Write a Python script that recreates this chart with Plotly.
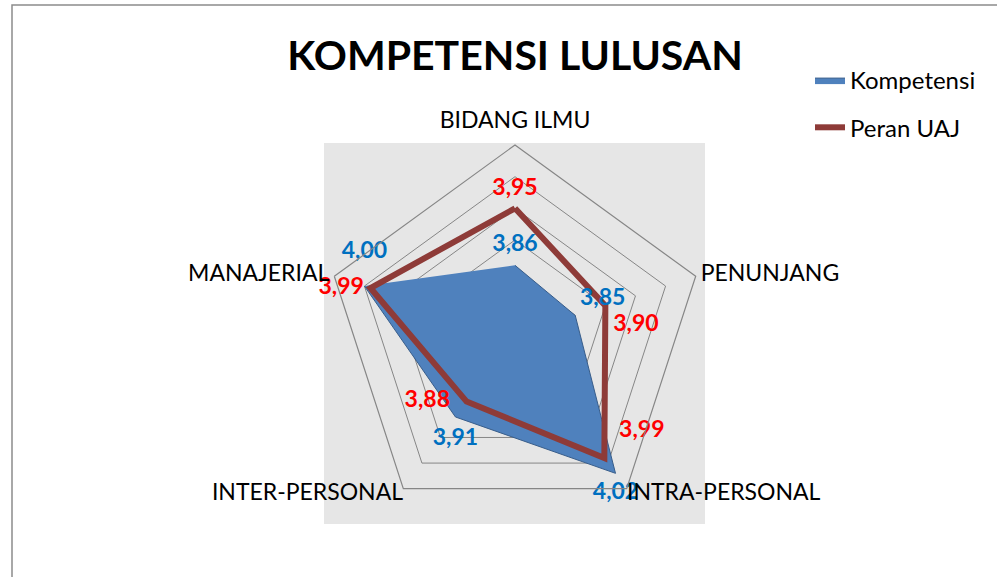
import plotly.graph_objects as go

categories = ["BIDANG ILMU", "PENUNJANG", "INTRA-PERSONAL", "INTER-PERSONAL", "MANAJERIAL"]
kompetensi = [3.86, 3.85, 4.02, 3.91, 4.00]
peran_uaj = [3.95, 3.90, 3.99, 3.88, 3.99]
radial_min, radial_max, radial_step = 3.75, 4.05, 0.05

# label placement relative to each point (position, spacer size)
komp_textpos = ["top center", "top right", "bottom center", "bottom center", "top center"]
komp_offset = [12, 6, 12, 16, 34]
peran_textpos = ["top center", "bottom right", "top right", "middle left", "middle left"]
peran_offset = [10, 11, 22, 25, 9]

FONT = "Lato, 'Open Sans', sans-serif"
W, H = 997, 577


def fmt(v):
    return "<b>" + f"{v:.2f}".replace(".", ",") + "</b>"


fig = go.Figure()

fig.add_trace(go.Scatterpolar(
    r=kompetensi, theta=categories, name="Kompetensi",
    mode="lines", fill="toself", fillcolor="#4F81BD",
    line=dict(color="#385D8A", width=1),
    legendgroup="a",
))
fig.add_trace(go.Scatterpolar(
    r=peran_uaj + peran_uaj[:1], theta=categories + categories[:1], name="Peran UAJ",
    mode="lines", line=dict(color="#8E3B38", width=6),
    legendgroup="b",
))
fig.add_trace(go.Scatterpolar(
    r=kompetensi, theta=categories, mode="markers+text", showlegend=False,
    marker=dict(size=komp_offset, opacity=0), text=[fmt(v) for v in kompetensi],
    textposition=komp_textpos,
    textfont=dict(family=FONT, size=23, color="#0070C0"),
    hoverinfo="skip",
))
fig.add_trace(go.Scatterpolar(
    r=peran_uaj, theta=categories, mode="markers+text", showlegend=False,
    marker=dict(size=peran_offset, opacity=0), text=[fmt(v) for v in peran_uaj],
    textposition=peran_textpos,
    textfont=dict(family=FONT, size=23, color="#FF0000"),
    hoverinfo="skip",
))
# invisible trace carrying the second (label-only) angular axis
fig.add_trace(go.Scatterpolar(
    r=kompetensi, theta=categories, mode="lines", opacity=0, showlegend=False,
    hoverinfo="skip", subplot="polar2",
))

dx0, dx1 = 325 / W, 705 / W
dy0, dy1 = 1 - 525 / H, 1 - 145 / H
lift = 12 / H

side_text = [c if c in ("PENUNJANG", "MANAJERIAL") else "" for c in categories]
vert_text = [c if c not in ("PENUNJANG", "MANAJERIAL") else "" for c in categories]

radial_common = dict(range=[radial_min, radial_max], tick0=radial_min, dtick=radial_step,
                     showticklabels=False, showline=False, ticks="")

fig.update_layout(
    template="none",
    width=W, height=H,
    margin=dict(l=0, r=0, t=0, b=0),
    paper_bgcolor="white",
    font=dict(family=FONT, size=23, color="black"),
    title=dict(text="<b>KOMPETENSI LULUSAN</b>", x=515 / W, xanchor="center",
               y=1 - 56 / H, yanchor="middle",
               font=dict(family=FONT, size=41, color="black")),
    polar=dict(
        domain=dict(x=[dx0, dx1], y=[dy0, dy1]),
        bgcolor="rgba(0,0,0,0)",
        gridshape="linear",
        radialaxis=dict(**radial_common, gridcolor="#868686", gridwidth=1.2),
        angularaxis=dict(rotation=90, direction="clockwise", showgrid=False,
                         showline=True, linecolor="#868686", linewidth=1.2, ticks="",
                         tickmode="array", tickvals=categories, ticktext=side_text,
                         tickfont=dict(family=FONT, size=23, color="black")),
    ),
    polar2=dict(
        domain=dict(x=[dx0, dx1], y=[dy0 + lift, dy1 + lift]),
        bgcolor="rgba(0,0,0,0)",
        gridshape="linear",
        radialaxis=dict(**radial_common, showgrid=False),
        angularaxis=dict(rotation=90, direction="clockwise", showgrid=False,
                         showline=False, ticks="",
                         tickmode="array", tickvals=categories, ticktext=vert_text,
                         tickfont=dict(family=FONT, size=23, color="black")),
    ),
    legend=dict(x=810 / W, xanchor="left", y=1 - 58 / H, yanchor="top",
                font=dict(family=FONT, size=24, color="black"),
                itemwidth=30, tracegroupgap=13, bgcolor="rgba(0,0,0,0)"),
    shapes=[
        dict(type="rect", xref="paper", yref="paper", x0=324 / W, x1=705 / W,
             y0=1 - 524 / H, y1=1 - 143 / H, fillcolor="#E6E6E6", line=dict(width=0),
             layer="below"),
        dict(type="rect", xref="paper", yref="paper", x0=12 / W, x1=1.02,
             y0=-0.02, y1=1 - 5 / H, fillcolor="rgba(0,0,0,0)",
             line=dict(color="#8C8C8C", width=1.5), layer="below"),
    ],
)

fig.write_html("out.html", config={"displayModeBar": False},
               post_script="document.body.style.margin='0px';")
